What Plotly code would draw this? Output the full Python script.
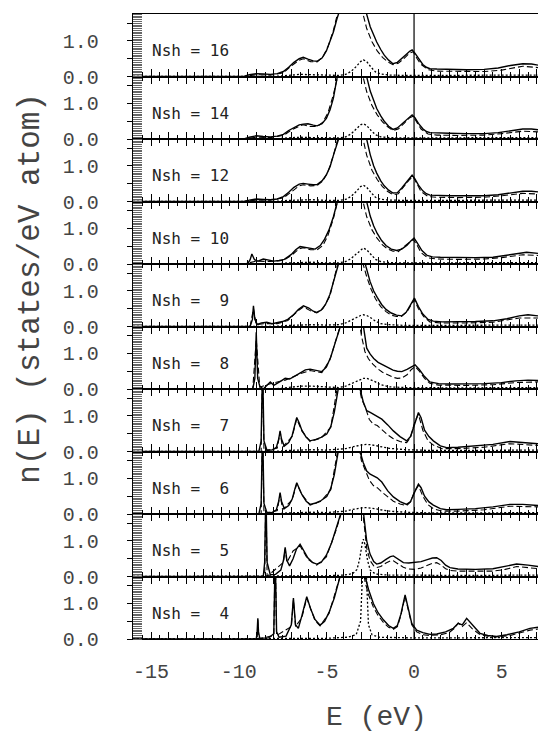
import plotly.graph_objects as go
from plotly.subplots import make_subplots

# ---------------- data ----------------
NSH = [16, 14, 12, 10, 9, 8, 7, 6, 5, 4]

X_TICK_VALS = [-15, -10, -5, 0, 5]
X_TICK_LABELS = ["-15", "-10", "-5", "0", "5"]
Y_TICK_VALS = [0, 1]
Y_TICK_LABELS = ["0.0", "1.0"]

# total DOS (solid)
S16_E = [-16.03, -9.7, -9.4, -9.0, -8.6, -8.2, -7.8, -7.45, -7.15, -6.85, -6.55, -6.32, -6.05, -5.75, -5.53,
         -5.25, -5.0, -4.79, -4.6, -4.4, -4.2, -3.9, -3.5, -3.1, -2.85, -2.70, -2.5, -2.3, -2.13, -1.9, -1.7,
         -1.45, -1.2, -0.95, -0.7, -0.45, -0.25, -0.11, 0.05, 0.25, 0.5, 0.7, 0.91, 1.3, 2.0, 3.0, 4.0, 4.8,
         5.5, 6.2, 6.7, 7.07]
S16_V = [0, 0, 0.05, 0.08, 0.07, 0.06, 0.08, 0.14, 0.26, 0.40, 0.50, 0.54, 0.49, 0.44, 0.43, 0.52, 0.72, 0.97,
         1.25, 1.62, 1.95, 2.5, 3.0, 2.8, 2.1, 1.75, 1.4, 1.15, 0.97, 0.76, 0.6, 0.46, 0.36, 0.40, 0.50, 0.62,
         0.71, 0.75, 0.66, 0.50, 0.34, 0.26, 0.22, 0.21, 0.20, 0.19, 0.20, 0.24, 0.31, 0.36, 0.35, 0.32]
S14_V = [0, 0, 0.05, 0.09, 0.07, 0.06, 0.08, 0.13, 0.24, 0.33, 0.40, 0.42, 0.43, 0.39, 0.37, 0.43, 0.58, 0.82,
         1.15, 1.7, 2.1, 2.6, 3.0, 2.8, 2.1, 1.75, 1.35, 1.05, 0.86, 0.65, 0.5, 0.36, 0.27, 0.31, 0.42, 0.54,
         0.63, 0.68, 0.60, 0.44, 0.29, 0.21, 0.18, 0.17, 0.16, 0.15, 0.15, 0.18, 0.23, 0.28, 0.28, 0.26]
S12_V = [0, 0, 0.04, 0.07, 0.06, 0.05, 0.07, 0.14, 0.26, 0.40, 0.49, 0.51, 0.49, 0.47, 0.48, 0.58, 0.75, 0.98,
         1.3, 1.75, 2.1, 2.6, 3.0, 2.8, 2.1, 1.75, 1.32, 1.0, 0.8, 0.58, 0.44, 0.32, 0.24, 0.25, 0.38, 0.54,
         0.66, 0.74, 0.64, 0.46, 0.30, 0.22, 0.18, 0.17, 0.16, 0.16, 0.16, 0.19, 0.24, 0.29, 0.29, 0.27]
S10_E = [-16.03, -9.5, -9.35, -9.25, -9.1, -8.9, -8.6, -8.3, -8.0, -7.7, -7.4, -7.0, -6.75, -6.5, -6.2, -5.9,
         -5.64, -5.35, -5.1, -4.85, -4.6, -4.37, -4.1, -3.6, -3.1, -2.85, -2.70, -2.5, -2.3, -2.1, -1.85, -1.6,
         -1.3, -0.99, -0.7, -0.4, -0.2, 0.0, 0.2, 0.45, 0.75, 1.05, 1.5, 2.5, 3.5, 4.5, 5.3, 6.0, 6.42, 7.07]
S10_V = [0, 0, 0.12, 0.28, 0.12, 0.08, 0.14, 0.1, 0.08, 0.1, 0.13, 0.27, 0.40, 0.49, 0.46, 0.43, 0.42, 0.52,
         0.70, 0.96, 1.33, 1.76, 2.4, 3.0, 2.7, 2.0, 1.75, 1.35, 1.07, 0.86, 0.66, 0.52, 0.42, 0.38, 0.42, 0.53,
         0.64, 0.73, 0.58, 0.38, 0.24, 0.20, 0.19, 0.18, 0.18, 0.19, 0.25, 0.31, 0.33, 0.30]
S9_E = [-16.03, -9.35, -9.22, -9.16, -9.08, -8.95, -8.7, -8.4, -8.1, -7.8, -7.5, -7.2, -6.9, -6.6, -6.31, -6.0,
        -5.75, -5.55, -5.3, -5.05, -4.8, -4.6, -4.37, -4.1, -3.6, -3.1, -2.75, -2.51, -2.3, -2.1, -1.85, -1.6,
        -1.3, -1.0, -0.70, -0.45, -0.2, 0.02, 0.25, 0.5, 0.8, 1.1, 1.6, 2.5, 3.5, 4.5, 5.3, 6.0, 6.5, 7.07]
S9_V = [0, 0, 0.2, 0.58, 0.2, 0.06, 0.1, 0.12, 0.08, 0.1, 0.14, 0.2, 0.32, 0.48, 0.58, 0.52, 0.43, 0.40, 0.46,
        0.62, 0.9, 1.25, 1.76, 2.4, 3.0, 2.6, 1.7, 1.27, 1.0, 0.82, 0.62, 0.48, 0.38, 0.32, 0.30, 0.40, 0.6,
        0.80, 0.56, 0.35, 0.20, 0.15, 0.13, 0.13, 0.14, 0.16, 0.22, 0.30, 0.33, 0.30]
S8_E = [-16.03, -9.2, -9.08, -9.0, -8.92, -8.8, -8.6, -8.4, -8.2, -8.0, -7.8, -7.6, -7.35, -7.1, -6.8, -6.5,
        -6.2, -5.93, -5.6, -5.26, -5.0, -4.75, -4.5, -4.22, -3.9, -3.4, -3.05, -2.89, -2.7, -2.5, -2.3, -2.05,
        -1.8, -1.5, -1.2, -0.95, -0.7, -0.4, -0.15, 0.06, 0.3, 0.6, 0.9, 1.4, 2.0, 3.0, 4.0, 5.0, 5.8, 6.5, 7.07]
S8_V = [0, 0, 0.3, 1.6, 0.3, 0.08, 0.0, 0.1, 0.2, 0.1, 0.15, 0.22, 0.30, 0.28, 0.36, 0.46, 0.54, 0.56, 0.52,
        0.49, 0.62, 0.9, 1.3, 1.76, 2.5, 3.0, 2.3, 1.7, 1.15, 0.98, 0.86, 0.75, 0.69, 0.60, 0.53, 0.50, 0.49,
        0.55, 0.63, 0.68, 0.55, 0.35, 0.2, 0.15, 0.14, 0.14, 0.15, 0.18, 0.23, 0.25, 0.24]
S7_E = [-16.03, -8.85, -8.72, -8.64, -8.56, -8.4, -8.1, -7.85, -7.72, -7.64, -7.56, -7.4, -7.15, -6.95, -6.8,
        -6.69, -6.55, -6.4, -6.15, -5.93, -5.6, -5.3, -4.98, -4.75, -4.55, -4.41, -4.25, -3.9, -3.4, -3.08, -2.9,
        -2.70, -2.5, -2.32, -2.1, -1.84, -1.5, -1.18, -0.8, -0.42, -0.2, 0.0, 0.15, 0.25, 0.4, 0.6, 0.85, 1.10,
        1.5, 1.86, 2.5, 3.5, 4.5, 5.47, 6.2, 7.07]
S7_V = [0, 0, 0.3, 2.5, 0.3, 0.05, 0.04, 0.12, 0.35, 0.58, 0.35, 0.15, 0.25, 0.45, 0.75, 0.96, 0.8, 0.6, 0.40,
        0.30, 0.34, 0.40, 0.49, 0.7, 1.1, 1.71, 2.3, 3.0, 3.0, 1.76, 1.4, 1.15, 1.1, 1.05, 0.98, 0.91, 0.75,
        0.58, 0.42, 0.30, 0.42, 0.75, 1.0, 1.1, 0.95, 0.6, 0.42, 0.30, 0.16, 0.11, 0.12, 0.15, 0.2, 0.28, 0.26,
        0.22]
S6_V = [0, 0, 0.3, 2.5, 0.3, 0.05, 0.04, 0.12, 0.36, 0.60, 0.36, 0.15, 0.24, 0.42, 0.70, 0.88, 0.72, 0.55, 0.36,
        0.27, 0.31, 0.38, 0.49, 0.72, 1.1, 1.68, 2.3, 3.0, 3.0, 1.76, 1.45, 1.21, 1.12, 1.08, 1.02, 0.90, 0.65,
        0.48, 0.35, 0.27, 0.35, 0.58, 0.76, 0.84, 0.74, 0.5, 0.34, 0.25, 0.15, 0.12, 0.13, 0.15, 0.2, 0.27, 0.27,
        0.24]
S5_E = [-16.03, -8.6, -8.52, -8.45, -8.38, -8.2, -7.9, -7.6, -7.45, -7.35, -7.25, -7.1, -6.9, -6.7, -6.5, -6.3,
        -6.05, -5.8, -5.55, -5.3, -5.0, -4.7, -4.45, -4.22, -3.9, -3.4, -3.05, -2.89, -2.7, -2.51, -2.3, -2.13,
        -1.9, -1.6, -1.35, -1.18, -0.95, -0.61, -0.3, 0.06, 0.4, 0.8, 1.05, 1.29, 1.55, 1.8, 2.05, 2.5, 3.5, 4.5,
        5.2, 5.85, 6.5, 7.07]
S5_V = [0, 0, 0.4, 2.5, 0.4, 0.05, 0.06, 0.18, 0.45, 0.82, 0.45, 0.3, 0.5, 0.78, 0.91, 0.75, 0.52, 0.40, 0.35,
        0.40, 0.6, 0.95, 1.35, 1.76, 2.5, 3.0, 2.5, 1.76, 1.0, 0.63, 0.42, 0.35, 0.38, 0.48, 0.56, 0.58, 0.5,
        0.39, 0.38, 0.39, 0.42, 0.48, 0.52, 0.53, 0.45, 0.32, 0.25, 0.21, 0.20, 0.22, 0.28, 0.35, 0.32, 0.28]
S4_E = [-16.03, -9.0, -8.95, -8.91, -8.87, -8.8, -8.3, -8.0, -7.92, -7.84, -7.7, -7.3, -7.0, -6.88, -6.76, -6.6,
        -6.4, -6.12, -5.9, -5.65, -5.36, -5.1, -4.85, -4.55, -4.22, -3.9, -3.4, -3.0, -2.79, -2.6, -2.32, -2.05,
        -1.75, -1.45, -1.18, -0.95, -0.75, -0.51, -0.3, -0.13, 0.15, 0.5, 0.91, 1.3, 1.8, 2.24, 2.52, 2.75, 3.0,
        3.3, 3.76, 4.2, 4.71, 5.3, 6.0, 6.61, 7.07]
S4_V = [0, 0, 0.2, 0.58, 0.2, 0.02, 0.03, 0.15, 2.5, 0.2, 0.05, 0.08, 0.4, 1.15, 0.4, 0.3, 0.65, 1.19, 0.85,
        0.55, 0.39, 0.5, 0.75, 1.15, 1.76, 2.5, 3.0, 2.5, 1.76, 1.4, 1.0, 0.74, 0.54, 0.38, 0.30, 0.38, 0.7, 1.24,
        0.8, 0.44, 0.25, 0.18, 0.13, 0.14, 0.2, 0.30, 0.44, 0.40, 0.58, 0.42, 0.16, 0.10, 0.07, 0.12, 0.2, 0.3,
        0.33]

# d-projected DOS (dashed)
DE_A = [-16.03, -9.7, -9.0, -8.2, -7.45, -7.0, -6.55, -6.32, -5.9, -5.53, -5.2, -4.9, -4.6, -4.35, -4.0, -3.5,
        -3.1, -2.91, -2.7, -2.4, -2.1, -1.8, -1.5, -1.2, -0.9, -0.55, -0.25, -0.05, 0.15, 0.4, 0.8, 1.3, 2.5,
        4.0, 5.0, 6.2, 7.07]
D16 = [0, 0, 0.05, 0.04, 0.10, 0.30, 0.46, 0.50, 0.42, 0.41, 0.55, 0.85, 1.30, 1.76, 2.50, 2.80, 2.20, 1.76,
       1.35, 0.98, 0.72, 0.54, 0.41, 0.33, 0.37, 0.52, 0.66, 0.70, 0.52, 0.34, 0.19, 0.15, 0.14, 0.14, 0.18,
       0.29, 0.25]
D14 = [0, 0, 0.05, 0.04, 0.10, 0.25, 0.36, 0.40, 0.35, 0.35, 0.47, 0.75, 1.25, 1.76, 2.50, 2.80, 2.20, 1.76,
       1.33, 0.94, 0.68, 0.48, 0.34, 0.24, 0.28, 0.45, 0.60, 0.64, 0.48, 0.28, 0.14, 0.11, 0.10, 0.11, 0.15,
       0.22, 0.20]
D12 = [0, 0, 0.04, 0.04, 0.10, 0.28, 0.44, 0.47, 0.44, 0.45, 0.58, 0.85, 1.30, 1.76, 2.50, 2.80, 2.20, 1.76,
       1.30, 0.88, 0.62, 0.42, 0.28, 0.19, 0.22, 0.44, 0.62, 0.70, 0.50, 0.28, 0.14, 0.12, 0.11, 0.12, 0.16,
       0.23, 0.21]
D10 = [0, 0, 0.08, 0.07, 0.10, 0.24, 0.43, 0.46, 0.40, 0.40, 0.52, 0.82, 1.28, 1.76, 2.50, 2.80, 2.20, 1.76,
       1.33, 0.96, 0.72, 0.54, 0.42, 0.36, 0.35, 0.50, 0.62, 0.69, 0.55, 0.32, 0.17, 0.14, 0.13, 0.14, 0.18,
       0.26, 0.24]
DE_B = [-16.03, -9.35, -9.16, -9.0, -8.5, -7.8, -7.2, -6.6, -6.31, -5.9, -5.55, -5.2, -4.8, -4.37, -4.0, -3.5,
        -3.1, -2.9, -2.7, -2.45, -2.2, -1.9, -1.6, -1.3, -1.0, -0.72, -0.4, -0.15, 0.02, 0.25, 0.55, 0.9, 1.5,
        3.0, 4.5, 6.0, 7.07]
D9 = [0, 0, 0.5, 0.05, 0.08, 0.08, 0.17, 0.45, 0.55, 0.44, 0.38, 0.5, 0.85, 1.76, 2.5, 2.8, 2.1, 1.76, 1.4,
      1.05, 0.78, 0.56, 0.42, 0.32, 0.28, 0.28, 0.42, 0.62, 0.75, 0.50, 0.28, 0.13, 0.10, 0.10, 0.12, 0.24, 0.24]
DE_C = [-16.03, -9.2, -9.0, -8.8, -8.2, -7.35, -6.5, -5.93, -5.26, -4.8, -4.22, -3.9, -3.4, -3.2, -3.0, -2.8,
        -2.6, -2.35, -2.1, -1.8, -1.5, -1.2, -0.95, -0.7, -0.4, -0.15, 0.06, 0.3, 0.6, 0.9, 1.4, 3.0, 4.5, 5.8,
        7.07]
D8 = [0, 0, 1.4, 0.05, 0.15, 0.25, 0.43, 0.52, 0.46, 0.82, 1.76, 2.5, 2.8, 2.1, 1.5, 1.05, 0.85, 0.7, 0.58,
      0.47, 0.39, 0.33, 0.30, 0.31, 0.40, 0.55, 0.63, 0.5, 0.3, 0.16, 0.11, 0.10, 0.12, 0.18, 0.20]
DE_D = [-16.03, -8.72, -8.64, -8.56, -7.8, -7.64, -7.5, -6.95, -6.69, -6.4, -5.93, -5.3, -4.75, -4.41, -4.25,
        -3.9, -3.4, -3.2, -3.0, -2.75, -2.55, -2.32, -2.1, -1.84, -1.5, -1.18, -0.8, -0.42, -0.2, 0.05, 0.25,
        0.5, 0.8, 1.1, 1.6, 2.5, 4.0, 5.47, 7.07]
D7 = [0, 0, 2.5, 0, 0.1, 0.55, 0.12, 0.42, 0.92, 0.58, 0.28, 0.38, 0.68, 1.65, 2.2, 2.9, 2.8, 2.0, 1.5, 1.2,
      0.9, 0.77, 0.73, 0.62, 0.47, 0.36, 0.28, 0.25, 0.40, 0.85, 1.05, 0.6, 0.3, 0.18, 0.08, 0.08, 0.12, 0.22,
      0.17]
D6 = [0, 0, 2.5, 0, 0.1, 0.57, 0.12, 0.40, 0.85, 0.55, 0.25, 0.36, 0.68, 1.62, 2.2, 2.9, 2.8, 2.0, 1.5, 1.2,
      0.95, 0.80, 0.74, 0.62, 0.48, 0.36, 0.28, 0.24, 0.34, 0.66, 0.80, 0.5, 0.26, 0.15, 0.08, 0.08, 0.12, 0.22,
      0.2]
DE_E = [-16.03, -8.52, -8.45, -8.38, -7.45, -7.35, -7.25, -6.9, -6.5, -6.05, -5.55, -5.0, -4.45, -4.22, -3.9,
        -3.4, -3.05, -2.89, -2.7, -2.51, -2.3, -2.13, -1.9, -1.6, -1.35, -1.18, -0.95, -0.61, -0.3, 0.06, 0.4,
        0.8, 1.05, 1.29, 1.55, 1.8, 2.05, 2.5, 3.5, 4.5, 5.2, 5.85, 6.5, 7.07]
D5 = [0, 0, 2.5, 0, 0.4, 0.78, 0.4, 0.72, 0.86, 0.48, 0.32, 0.55, 1.3, 1.76, 2.5, 3.0, 2.4, 1.6, 0.8, 0.45,
      0.30, 0.25, 0.28, 0.38, 0.44, 0.44, 0.36, 0.26, 0.21, 0.20, 0.24, 0.32, 0.37, 0.39, 0.32, 0.22, 0.17,
      0.15, 0.14, 0.15, 0.2, 0.28, 0.25, 0.22]
DE_F = [-16.03, -8.95, -8.91, -8.87, -8.0, -7.92, -7.84, -7.0, -6.88, -6.76, -6.4, -6.12, -5.65, -5.36, -4.85,
        -4.22, -3.9, -3.4, -3.0, -2.79, -2.6, -2.32, -2.05, -1.75, -1.45, -1.18, -0.95, -0.75, -0.51, -0.3,
        -0.13, 0.15, 0.5, 0.91, 1.5, 2.0, 2.3, 2.52, 2.75, 3.0, 3.3, 3.76, 4.2, 4.71, 5.5, 6.61, 7.07]
D4 = [0, 0, 0.55, 0, 0.1, 2.5, 0.1, 0.35, 1.1, 0.35, 0.6, 1.15, 0.52, 0.37, 0.72, 1.76, 2.5, 2.9, 2.3, 1.6,
      1.25, 0.9, 0.66, 0.47, 0.33, 0.27, 0.35, 0.66, 1.2, 0.76, 0.4, 0.2, 0.12, 0.1, 0.12, 0.18, 0.3, 0.45,
      0.35, 0.46, 0.3, 0.12, 0.08, 0.06, 0.1, 0.25, 0.28]

# partial DOS (dotted)
OE_A = [-16.03, -8.0, -7.2, -6.5, -5.8, -5.0, -4.3, -3.9, -3.6, -3.3, -3.05, -2.89, -2.7, -2.45, -2.2, -1.9,
        -1.4, -0.5, 1.0, 3.0, 5.0, 7.07]
O16 = [0, 0, 0.03, 0.06, 0.05, 0.03, 0.03, 0.06, 0.14, 0.28, 0.42, 0.47, 0.42, 0.26, 0.13, 0.07, 0.04, 0.03,
       0.03, 0.03, 0.04, 0.04]
O14 = [0, 0, 0.03, 0.05, 0.04, 0.03, 0.03, 0.06, 0.14, 0.28, 0.40, 0.43, 0.38, 0.24, 0.12, 0.06, 0.04, 0.03,
       0.03, 0.03, 0.04, 0.04]
O12 = [0, 0, 0.03, 0.05, 0.05, 0.03, 0.03, 0.06, 0.14, 0.28, 0.42, 0.46, 0.40, 0.25, 0.12, 0.06, 0.04, 0.03,
       0.03, 0.03, 0.04, 0.04]
O10 = [0, 0, 0.03, 0.05, 0.05, 0.03, 0.03, 0.07, 0.15, 0.28, 0.40, 0.45, 0.40, 0.26, 0.13, 0.07, 0.04, 0.03,
       0.03, 0.03, 0.04, 0.04]
O9 = [0, 0, 0.03, 0.05, 0.05, 0.04, 0.05, 0.1, 0.18, 0.26, 0.31, 0.33, 0.31, 0.24, 0.15, 0.08, 0.05, 0.03,
      0.03, 0.03, 0.04, 0.04]
O8 = [0, 0, 0.04, 0.08, 0.08, 0.05, 0.04, 0.08, 0.15, 0.22, 0.27, 0.30, 0.30, 0.26, 0.2, 0.12, 0.06, 0.04,
      0.03, 0.03, 0.04, 0.04]
O7 = [0, 0, 0.03, 0.05, 0.05, 0.04, 0.06, 0.08, 0.12, 0.16, 0.18, 0.19, 0.2, 0.19, 0.17, 0.13, 0.09, 0.05,
      0.03, 0.03, 0.04, 0.04]
O6 = [0, 0, 0.03, 0.05, 0.05, 0.04, 0.06, 0.08, 0.12, 0.15, 0.17, 0.18, 0.18, 0.17, 0.15, 0.12, 0.08, 0.05,
      0.03, 0.03, 0.04, 0.04]
OE_5 = [-16.03, -8, -5, -4.0, -3.5, -3.25, -3.1, -2.95, -2.89, -2.8, -2.65, -2.5, -2.2, -1.5, 0, 3, 7.07]
O5 = [0, 0, 0.02, 0.04, 0.08, 0.2, 0.5, 0.95, 1.05, 0.9, 0.45, 0.18, 0.07, 0.04, 0.03, 0.03, 0.04]
OE_4 = [-16.03, -8, -5, -3.8, -3.3, -3.05, -2.98, -2.9, -2.84, -2.78, -2.7, -2.6, -2.4, -2.0, 0, 3, 7.07]
O4 = [0, 0, 0.02, 0.05, 0.12, 0.5, 1.5, 2.5, 3.0, 2.5, 1.3, 0.4, 0.12, 0.05, 0.03, 0.03, 0.04]

PANELS = [
    (16, S16_E, S16_V, DE_A, D16, OE_A, O16),
    (14, S16_E, S14_V, DE_A, D14, OE_A, O14),
    (12, S16_E, S12_V, DE_A, D12, OE_A, O12),
    (10, S10_E, S10_V, DE_A, D10, OE_A, O10),
    (9, S9_E, S9_V, DE_B, D9, OE_A, O9),
    (8, S8_E, S8_V, DE_C, D8, OE_A, O8),
    (7, S7_E, S7_V, DE_D, D7, OE_A, O7),
    (6, S7_E, S6_V, DE_D, D6, OE_A, O6),
    (5, S5_E, S5_V, DE_E, D5, OE_5, O5),
    (4, S4_E, S4_V, DE_F, D4, OE_4, O4),
]

# ---------------- figure ----------------
X_RANGE = [-16.03, 7.07]
Y_RANGE = [0, 1.76]
MONO = "Liberation Mono"
TXT = "#444"

n = len(PANELS)
fig = make_subplots(rows=n, cols=1, shared_xaxes=True, vertical_spacing=0)

int_ticks = list(range(-16, 8))
half_ticks = [t + 0.5 for t in range(-17, 7)]

for i, (nsh, se, sv, de, dv, oe, ov) in enumerate(PANELS):
    r = i + 1
    fig.add_trace(go.Scatter(x=oe, y=ov, mode="lines", line=dict(color="black", width=1.3, dash="2px,2px"),
                             showlegend=False, hoverinfo="skip"), row=r, col=1)
    fig.add_trace(go.Scatter(x=de, y=dv, mode="lines", line=dict(color="black", width=1.1, dash="6px,3px"),
                             showlegend=False, hoverinfo="skip"), row=r, col=1)
    fig.add_trace(go.Scatter(x=se, y=sv, mode="lines", line=dict(color="black", width=1.4),
                             showlegend=False, hoverinfo="skip"), row=r, col=1)

    last = (r == n)
    fig.update_xaxes(
        range=X_RANGE, showgrid=False, zeroline=False,
        showline=True, linecolor="black", linewidth=1.4,
        mirror=True if r == 1 else "ticks",
        ticks="inside", ticklen=7, tickwidth=1.2, tickcolor="black",
        tickvals=int_ticks,
        ticktext=[(X_TICK_LABELS[X_TICK_VALS.index(t)] if t in X_TICK_VALS else "") for t in int_ticks],
        showticklabels=last,
        tickfont=dict(family=MONO, size=20, color=TXT),
        ticklabelstandoff=14,
        minor=dict(tickvals=half_ticks, ticks="inside", ticklen=4, tickwidth=1.2, tickcolor="black"),
        row=r, col=1)
    fig.update_yaxes(
        range=Y_RANGE, showgrid=False, zeroline=False,
        showline=True, linecolor="black", linewidth=1.4, mirror=False,
        tickvals=[0, 0.5, 1.0, 1.5],
        ticktext=[Y_TICK_LABELS[0], "", Y_TICK_LABELS[1], ""],
        ticks="outside", ticklen=5, tickwidth=1.2, tickcolor="black",
        tickfont=dict(family=MONO, size=20, color=TXT),
        ticklabelstandoff=24,
        minor=dict(dtick=0.05, ticks="inside", ticklen=9, tickwidth=0.6, tickcolor="#666"),
        row=r, col=1)

    xref = "x" if r == 1 else f"x{r}"
    yref = "y" if r == 1 else f"y{r}"
    label = "Nsh = " + (f"{nsh:2d}".replace(" ", "\u00a0"))
    fig.add_annotation(x=-15.04, y=0.72, xref=xref, yref=yref, text=label, showarrow=False,
                       xanchor="left", yanchor="middle",
                       font=dict(family="DejaVu Sans Mono", size=16, color="#222"))

# Fermi level line through all panels
fig.add_shape(type="line", xref="x", yref="paper", x0=0, x1=0, y0=0, y1=1,
              line=dict(color="black", width=1.2))

fig.add_annotation(x=-0.252, y=0.562, xref="paper", yref="paper", text="n(E) (states/eV atom)",
                   textangle=-90, showarrow=False, xanchor="center", yanchor="middle",
                   font=dict(family=MONO, size=31, color=TXT))
fig.add_annotation(x=0.602, y=-0.126, xref="paper", yref="paper", text="E (eV)",
                   showarrow=False, xanchor="center", yanchor="middle",
                   font=dict(family=MONO, size=28, color=TXT))

fig.update_layout(width=538, height=737, autosize=False,
                  margin=dict(l=133, r=0, t=14, b=98),
                  paper_bgcolor="white", plot_bgcolor="white")

fig.write_html("out.html")
